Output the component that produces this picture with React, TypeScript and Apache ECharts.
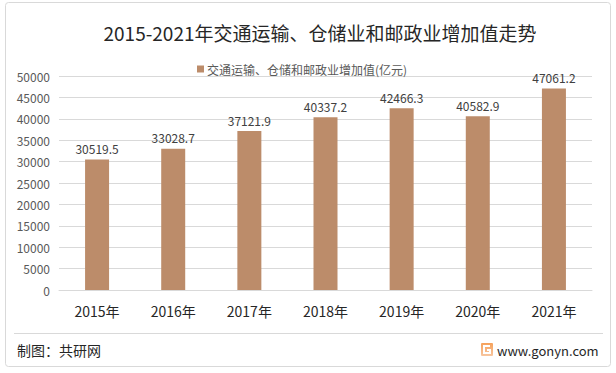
import React, { useEffect, useRef } from "react";
import * as echarts from "echarts";

const categories = ["2015年", "2016年", "2017年", "2018年", "2019年", "2020年", "2021年"];
const values = [30519.5, 33028.7, 37121.9, 40337.2, 42466.3, 40582.9, 47061.2];
const seriesName = "交通运输、仓储和邮政业增加值(亿元)";
const titleText = "2015-2021年交通运输、仓储业和邮政业增加值走势";
const sourceText = "制图：共研网";
const siteText = "www.gonyn.com";

const FONT = "'Noto Sans CJK SC', 'Microsoft YaHei', sans-serif";

export default function App() {
  const ref = useRef<HTMLDivElement>(null);
  useEffect(() => {
    if (!ref.current) return;
    const chart = echarts.init(ref.current, null, { renderer: "svg" });
    chart.setOption({
      animation: false,
      backgroundColor: "#ffffff",
      textStyle: { fontFamily: FONT },
      legend: {
        data: [seriesName],
        left: 192,
        top: 58,
        icon: "rect",
        itemWidth: 7,
        itemHeight: 7,
        itemGap: 4,
        textStyle: { fontSize: 12, color: "#595959", fontFamily: FONT, padding: [0, 0, 0, -2] },
      },
      grid: { left: 59, right: 24, top: 76, bottom: 83, containLabel: false },
      xAxis: {
        type: "category",
        data: categories,
        axisLine: { show: true, lineStyle: { color: "#D9D9D9" } },
        axisTick: { show: false },
        axisLabel: { fontSize: 14, color: "#262626", margin: 14, fontFamily: FONT },
      },
      yAxis: {
        type: "value",
        min: 0,
        max: 50000,
        interval: 5000,
        axisLine: { show: false },
        axisTick: { show: false },
        axisLabel: {
          fontSize: 12,
          color: "#595959",
          margin: 9,
          fontFamily: FONT,
          formatter: (v: number) => String(v),
        },
        splitLine: { lineStyle: { color: "#D9D9D9" } },
      },
      series: [
        {
          name: seriesName,
          type: "bar",
          data: values,
          barWidth: 24,
          itemStyle: { color: "#BC8C6A" },
          label: {
            show: true,
            position: "top",
            distance: 5,
            fontSize: 12,
            color: "#404040",
            fontFamily: FONT,
          },
        },
      ],
      graphic: [
        {
          type: "rect",
          shape: { x: 5.5, y: 2.5, width: 605, height: 364, r: 3 },
          style: { fill: "none", stroke: "#D9D9D9", lineWidth: 1 },
          silent: true,
        },
        {
          type: "line",
          shape: { x1: 14, y1: 333.5, x2: 603, y2: 333.5 },
          style: { stroke: "#D9D9D9", lineWidth: 1 },
          silent: true,
        },
        {
          type: "text",
          x: 320,
          y: 32,
          style: {
            text: titleText,
            fontSize: 19,
            fill: "#262626",
            fontFamily: FONT,
            textAlign: "center",
            textVerticalAlign: "middle",
          },
        },
        {
          type: "text",
          x: 17,
          y: 350,
          style: {
            text: sourceText,
            fontSize: 14,
            fill: "#262626",
            fontFamily: FONT,
            textAlign: "left",
            textVerticalAlign: "middle",
          },
        },
        {
          type: "rect",
          shape: { x: 481, y: 343, width: 12, height: 13, r: 1 },
          style: {
            fill: new echarts.graphic.LinearGradient(0, 0, 0, 1, [
              { offset: 0, color: "#F6A15A" },
              { offset: 1, color: "#F7C6A0" },
            ]),
          },
        },
        {
          type: "polyline",
          shape: {
            points: [
              [490, 346],
              [484, 346],
              [484, 353],
              [490, 353],
              [490, 350],
              [487, 350],
            ],
          },
          style: { stroke: "#ffffff", lineWidth: 2, fill: "none" },
        },
        {
          type: "text",
          x: 497,
          y: 350,
          style: {
            text: siteText,
            fontSize: 13,
            fill: "#262626",
            fontFamily: FONT,
            textAlign: "left",
            textVerticalAlign: "middle",
          },
        },
      ],
    });
    return () => chart.dispose();
  }, []);
  return (
    <div
      ref={ref}
      style={{ position: "fixed", left: 0, top: 0, width: 616, height: 373 }}
    />
  );
}
